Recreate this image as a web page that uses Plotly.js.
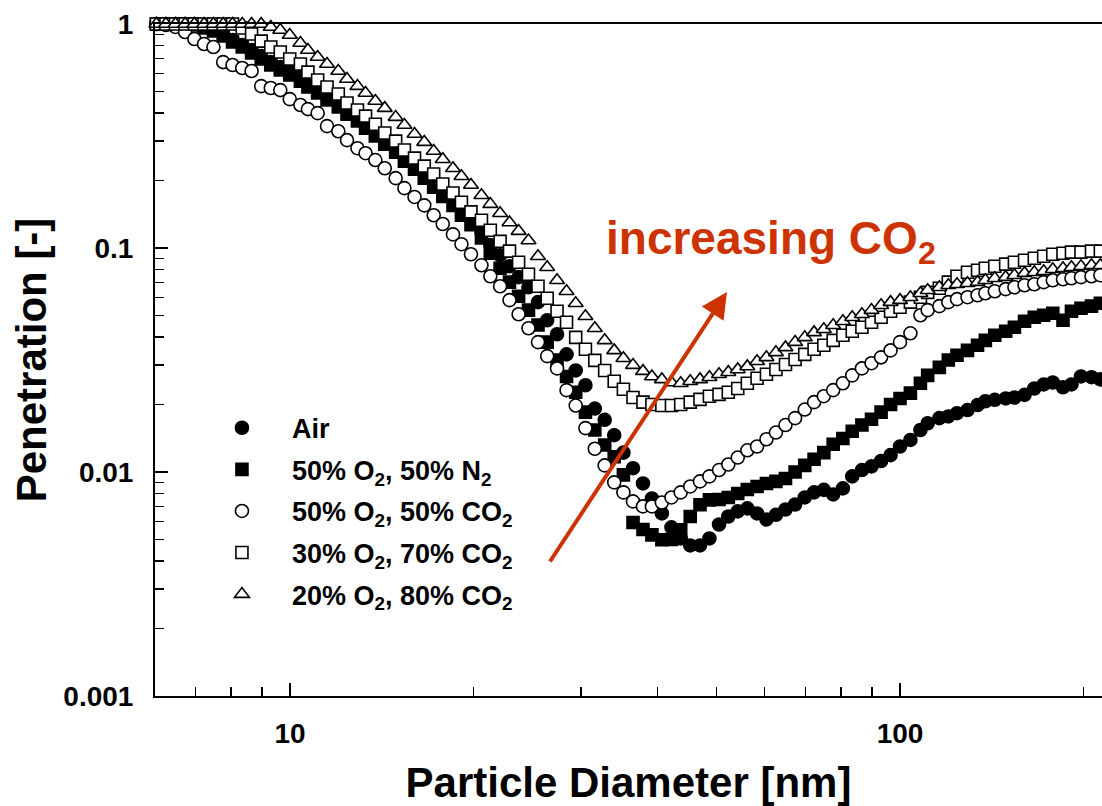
<!DOCTYPE html>
<html><head><meta charset="utf-8">
<script src="https://cdn.plot.ly/plotly-3.0.1.min.js"></script>
<style>html,body{margin:0;padding:0;background:#fff}</style>
</head><body><div id="chart" style="width:1102px;height:806px"></div>
<script>
// Particle diameter channels [nm]
const diam = [6.04,6.26,6.49,6.73,6.97,7.23,7.49,7.77,8.05,8.35,8.65,8.97,9.30,9.64,9.99,10.4,10.7,11.1,11.5,12.0,12.4,12.9,13.3,13.8,14.3,14.9,15.4,16.0,16.6,17.2,17.8,18.5,19.1,19.8,20.6,21.3,22.1,22.9,23.7,24.6,25.5,26.4,27.4,28.4,29.4,30.5,31.6,32.8,34.0,35.2,36.5,37.9,39.2,40.7,42.2,43.7,45.3,47.0,48.7,50.5,52.3,54.2,56.2,58.3,60.4,62.6,64.9,67.3,69.8,72.3,75.0,77.7,80.6,83.5,86.6,89.8,93.1,96.5,100,104,108,111,116,120,124,129,134,138,143,149,154,160,166,172,178,185,191,198,206,213];

// Penetration [-]
const air = [1.0,1.0,1.0,1.0,1.0, 0.980,0.950,0.902,0.848,0.806, 0.765,0.719,0.676,0.642,0.610, 0.580,0.545,0.513,0.477,0.444, 0.413,0.384,0.357,0.332,0.306, 0.282,0.257,0.237,0.218,0.199, 0.181,0.165,0.149,0.134,0.118, 0.103,0.0928,0.0829,0.0741,0.0668, 0.0573,0.0476,0.0412,0.0335,0.0284, 0.0244,0.0192,0.0171,0.0146,0.0122, 0.0104,0.00889,0.00762,0.00653,0.00566, 0.00505,0.00470,0.00470,0.00505,0.00583, 0.00633,0.00667,0.00688,0.00653,0.00614, 0.00644,0.00680,0.00716,0.00770,0.00811, 0.00832,0.00794,0.00845,0.00956,0.0102, 0.0106,0.0112,0.0119,0.0130,0.0139, 0.0154,0.0165,0.0174,0.0177,0.0183, 0.0189,0.0199,0.0207,0.0210,0.0213, 0.0215,0.0221,0.0236,0.0246,0.0251, 0.0239,0.0246,0.0267,0.0265,0.0259];

const o2n2_50 = [1.0,1.0,1.0,1.0,0.990, 0.960,0.930,0.884,0.831,0.789, 0.742,0.698,0.656,0.623,0.592, 0.556,0.523,0.492,0.458,0.426, 0.396,0.369,0.343,0.316,0.291, 0.268,0.244,0.225,0.205,0.187, 0.170,0.155,0.140,0.127,0.111, 0.0948,0.0812,0.0704,0.0609,0.0528, 0.0453,0.0380,0.0316,0.0267,0.0227, 0.0185,0.0154,0.0132,0.0117,0.00971, 0.00595,0.00554,0.00524,0.00498,0.00500, 0.00552,0.00633,0.00714,0.00751,0.00754, 0.00770,0.00802,0.00836,0.00862,0.00889, 0.00908,0.00936,0.0100,0.0107,0.0114, 0.0122,0.0133,0.0141,0.0152,0.0162, 0.0172,0.0185,0.0200,0.0213,0.0225, 0.0249,0.0270,0.0293,0.0316,0.0332, 0.0349,0.0368,0.0387,0.0408,0.0425, 0.0443,0.0471,0.0491,0.0501,0.0511, 0.0476,0.0522,0.0538,0.0550,0.0567];

const co2_50 = [1.0,0.990,0.970,0.921,0.857, 0.814,0.789,0.676,0.656,0.636, 0.617,0.528,0.518,0.507,0.462, 0.435,0.417,0.400,0.350,0.332, 0.303,0.279,0.265,0.247,0.227, 0.205,0.185,0.169,0.155,0.140, 0.128,0.115,0.104,0.0938,0.0837, 0.0748,0.0675,0.0585,0.0506,0.0438, 0.0380,0.0329,0.0290,0.0232,0.0198, 0.0157,0.0127,0.0107,0.00899,0.00811, 0.00739,0.00702,0.00702,0.00731,0.00770, 0.00811,0.00862,0.00908,0.00956,0.0102, 0.0108,0.0116,0.0125,0.0130,0.0140, 0.0150,0.0162,0.0174,0.0190,0.0205, 0.0218,0.0232,0.0249,0.0270,0.0290, 0.0306,0.0325,0.0349,0.0380,0.0416, 0.0501,0.0528,0.0550,0.0573,0.0591, 0.0603,0.0615,0.0628,0.0641,0.0655, 0.0668,0.0682,0.0689,0.0704,0.0718, 0.0725,0.0733,0.0741,0.0748,0.0756];

const co2_70 = [1.0,1.0,1.0,1.0,1.0, 1.0,1.0,1.0,1.0,0.960, 0.902,0.839,0.789,0.750,0.698, 0.663,0.610,0.562,0.523,0.487, 0.444,0.413,0.388,0.357,0.326, 0.300,0.274,0.252,0.232,0.214, 0.193,0.176,0.160,0.145,0.133, 0.120,0.107,0.0968,0.0864,0.0764, 0.0675,0.0597,0.0522,0.0466,0.0399, 0.0353,0.0315,0.0284,0.0254,0.0234, 0.0215,0.0205,0.0200,0.0198,0.0198, 0.0200,0.0205,0.0211,0.0218,0.0222, 0.0227,0.0236,0.0249,0.0262,0.0273, 0.0287,0.0302,0.0318,0.0335,0.0353, 0.0368,0.0387,0.0408,0.0425,0.0443, 0.0466,0.0491,0.0522,0.0544,0.0573, 0.0603,0.0634,0.0661,0.0704,0.0748, 0.0779,0.0796,0.0812,0.0829,0.0847, 0.0864,0.0882,0.0900,0.0919,0.0938, 0.0948,0.0958,0.0958,0.0968,0.0968];

const co2_80 = [1.0,1.0,1.0,1.0,1.0, 1.0,1.0,1.0,1.0,1.0, 1.0,1.0,0.970,0.940,0.893, 0.822,0.765,0.712,0.663,0.617, 0.568,0.528,0.492,0.453,0.421, 0.384,0.354,0.323,0.297,0.271, 0.249,0.227,0.209,0.191,0.172, 0.157,0.143,0.130,0.119,0.108, 0.0919,0.0821,0.0718,0.0641,0.0567, 0.0496,0.0438,0.0387,0.0349,0.0322, 0.0300,0.0282,0.0267,0.0259,0.0251, 0.0249,0.0254,0.0259,0.0265,0.0273, 0.0279,0.0287,0.0296,0.0312,0.0325, 0.0342,0.0360,0.0380,0.0399,0.0420, 0.0434,0.0452,0.0471,0.0491,0.0506, 0.0528,0.0555,0.0573,0.0585,0.0603, 0.0628,0.0648,0.0668,0.0682,0.0689, 0.0696,0.0704,0.0718,0.0733,0.0741, 0.0756,0.0772,0.0779,0.0787,0.0804, 0.0812,0.0821,0.0829,0.0838,0.0838];

const seriesNames = ['Air', '50% O<sub>2</sub>, 50% N<sub>2</sub>', '50% O<sub>2</sub>, 50% CO<sub>2</sub>', '30% O<sub>2</sub>, 70% CO<sub>2</sub>', '20% O<sub>2</sub>, 80% CO<sub>2</sub>'];
const xTickVals = [10, 100];
const xTickText = ['10', '100'];
const yTickVals = [0.001, 0.01, 0.1, 1];
const yTickText = ['0.001', '0.01', '0.1', '1'];

const FONT = 'Liberation Sans, Arial, Helvetica, sans-serif';
const PAD = '\u00a0\u00a0\u00a0\u00a0';

function trace(name, y, symbol, fill, size, g) {
  return {
    type: 'scatter', mode: 'markers', x: diam, y: y, name: PAD + name,
    legendgroup: g, cliponaxis: false,
    marker: {symbol: symbol, size: size, color: fill, line: {color: '#000', width: 1.6}}
  };
}

const data = [
  trace(seriesNames[0], air, 'circle', '#000', 13, 'a'),
  trace(seriesNames[1], o2n2_50, 'square', '#000', 12, 'b'),
  trace(seriesNames[2], co2_50, 'circle', '#fff', 13, 'c'),
  trace(seriesNames[3], co2_70, 'square', '#fff', 12, 'd'),
  trace(seriesNames[4], co2_80, 'triangle-up', '#fff', 13, 'e')
];

const axisCommon = {
  type: 'log', showline: true, linecolor: '#000', linewidth: 2,
  ticks: 'inside', ticklen: 13, tickwidth: 1.5, tickcolor: '#000',
  showgrid: false, zeroline: false, tickmode: 'array',
  tickfont: {family: FONT, size: 28, color: '#000', weight: 'bold'},
  minor: {ticks: 'inside', ticklen: 9, tickwidth: 1.5, tickcolor: '#000', dtick: 'D1', showgrid: false}
};

const layout = {
  width: 1102, height: 806,
  margin: {l: 155, r: 0, t: 24, b: 110},
  paper_bgcolor: '#fff', plot_bgcolor: '#fff',
  font: {family: FONT, color: '#000'},
  showlegend: true,
  xaxis: Object.assign({}, axisCommon, {
    range: [0.7787, 2.3311], mirror: true,
    tickvals: xTickVals, ticktext: xTickText, ticklabelstandoff: 11,
    title: {text: 'Particle Diameter [nm]', font: {family: FONT, size: 42, color: '#000', weight: 'bold'}, standoff: 22}
  }),
  yaxis: Object.assign({}, axisCommon, {
    range: [-3, 0], mirror: false,
    tickvals: yTickVals, ticktext: yTickText, ticklabelstandoff: 14,
    title: {text: 'Penetration [-]', font: {family: FONT, size: 42, color: '#000', weight: 'bold'}, standoff: 4}
  }),
  legend: {
    x: 0.0707, y: 0.435, xanchor: 'left', yanchor: 'top',
    bgcolor: 'rgba(0,0,0,0)', borderwidth: 0,
    font: {family: FONT, size: 27, color: '#000', weight: 'bold'},
    tracegroupgap: 3.5, itemsizing: 'trace', traceorder: 'grouped'
  },
  annotations: [
    {xref: 'paper', yref: 'paper', x: 0.4745, y: 0.677, xanchor: 'left', yanchor: 'middle',
     text: 'increasing CO<sub>2</sub>', showarrow: false,
     font: {family: FONT, size: 46, color: '#CC3300', weight: 'bold'}},
    {xref: 'paper', yref: 'paper', x: 0.6040, y: 0.6012, text: '', showarrow: true,
     ax: -178, ay: 271, arrowhead: 2, arrowsize: 1.3, arrowwidth: 4, arrowcolor: '#CC3300', standoff: 0}
  ]
};

Plotly.newPlot('chart', data, layout, {displayModeBar: false, staticPlot: true});
</script></body></html>
